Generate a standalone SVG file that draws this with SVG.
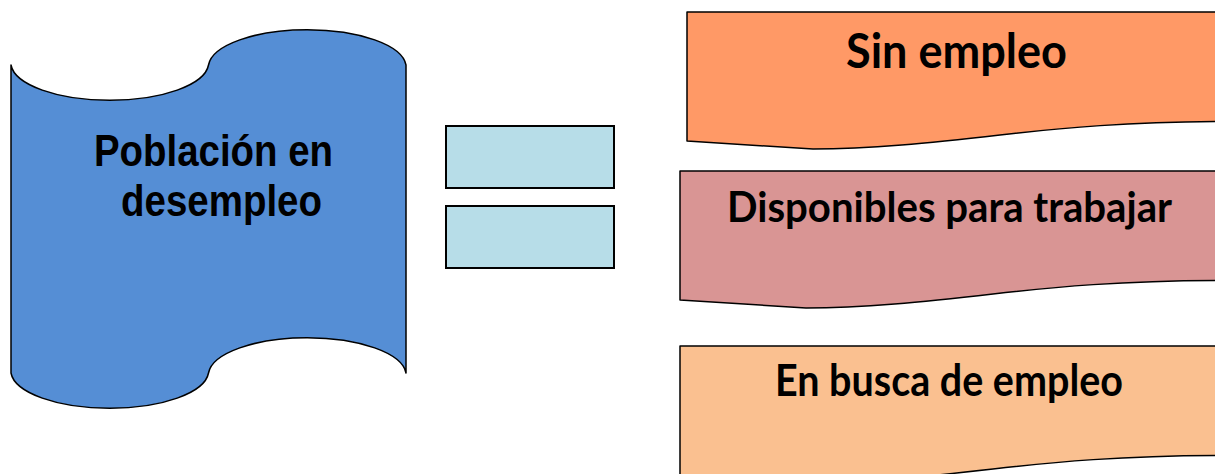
<svg xmlns="http://www.w3.org/2000/svg" width="1215" height="474" viewBox="0 0 1215 474">
<style>
.shape{stroke:#000;stroke-width:1.5;stroke-linejoin:round}
.lbl{font-family:"Liberation Sans",Arial,sans-serif;font-weight:bold;font-size:45px;fill:#000}
.doc{font-family:Lato,"Open Sans",sans-serif;font-weight:bold;fill:#000}
.eq{fill:#B7DDE8;stroke:#000;stroke-width:2}
</style>
<defs>
<path id="docShape" d="M0,0 H545 V109.5 C443,109.5 373,116 313,123 C243,131 183,137 126,137 L0,129 Z"/>
</defs>
<rect width="1215" height="474" fill="#fff"/>
<g id="poblacion">
<path class="shape" fill="#558ED5" d="M11,65 A99,38 0 0 0 208.5,65 A99,38 0 0 1 406,65 L406,373 A99,38 0 0 0 208.5,373 A99,38 0 0 1 11,373 Z"/>
<text class="lbl" x="94" y="166" textLength="239" lengthAdjust="spacingAndGlyphs">Población en</text>
<text class="lbl" x="121" y="216" textLength="201" lengthAdjust="spacingAndGlyphs">desempleo</text>
</g>
<g id="igual">
<rect class="eq" x="446" y="126" width="168" height="62"/>
<rect class="eq" x="446" y="206" width="168" height="62"/>
</g>
<g id="sin-empleo">
<use href="#docShape" class="shape" fill="#FF9966" transform="translate(687,12)"/>
<text class="doc" x="846" y="68" font-size="48" textLength="221" lengthAdjust="spacingAndGlyphs">Sin empleo</text>
</g>
<g id="disponibles">
<use href="#docShape" class="shape" fill="#D99594" transform="translate(680,171)"/>
<text class="doc" x="727" y="222" font-size="42" textLength="445" lengthAdjust="spacingAndGlyphs">Disponibles para trabajar</text>
</g>
<g id="en-busca">
<use href="#docShape" class="shape" fill="#FAC090" transform="translate(680,346)"/>
<text class="doc" x="775" y="396" font-size="43" textLength="348" lengthAdjust="spacingAndGlyphs">En busca de empleo</text>
</g>
<g id="connectors"/>
</svg>
